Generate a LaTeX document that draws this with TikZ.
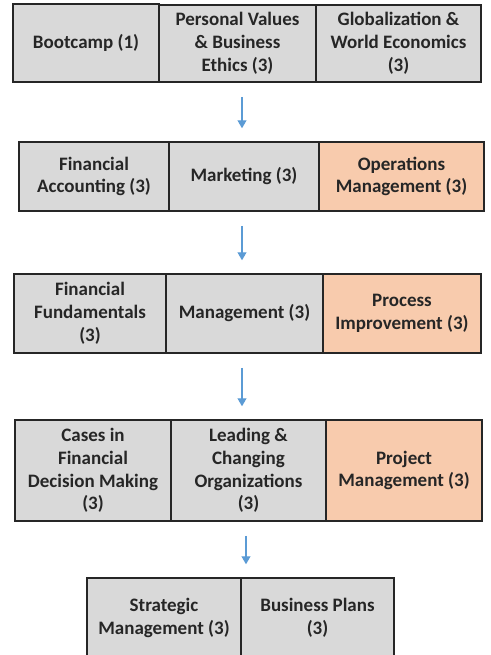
\documentclass[tikz,border=0pt]{standalone}
\usepackage{fontspec}
\setmainfont{Carlito}
\usetikzlibrary{arrows.meta}
\definecolor{boxgray}{HTML}{D9D9D9}
\definecolor{boxorange}{HTML}{F8CBAD}
\definecolor{arrowblue}{HTML}{5B9BD5}
\begin{document}
\begin{tikzpicture}[x=0.5pt,y=-0.5pt,
  box/.style={draw=black!85,line width=0.75pt,fill=boxgray,align=center,inner sep=0pt,
    font=\fontsize{9.5}{11.4}\selectfont\bfseries,text=black!85},
  core/.style={box,fill=boxorange},
  flow/.style={draw=arrowblue,line width=0.6pt,-{Triangle[width=4.5pt,length=4pt]},
    shorten <=7pt,shorten >=6.5pt}]
\useasboundingbox (0,0) rectangle (491,655);
\clip (0,0) rectangle (491,655);
% first term
\node[box,minimum width=73pt,minimum height=39pt] (boot) at (86,43) {Bootcamp (1)};
\node[box,minimum width=78.5pt,minimum height=38.5pt] (pv) at (237.5,43.5) {Personal Values\\ \& Business\\ Ethics (3)};
\node[box,minimum width=82.5pt,minimum height=38.5pt] (glob) at (398.5,43.5) {Globalization \&\\ World Economics\\ (3)};
% second term
\node[box,minimum width=75pt,minimum height=34.5pt] (facc) at (94,176.5) {Financial\\ Accounting (3)};
\node[box,minimum width=75pt,minimum height=34.5pt] (mkt) at (244,176.5) {Marketing (3)};
\node[core,minimum width=82.5pt,minimum height=34.5pt] (ops) at (401.5,176.5) {Operations\\ Management (3)};
% third term
\node[box,minimum width=76pt,minimum height=39.5pt] (ffund) at (90,313.5) {Financial\\ Fundamentals\\ (3)};
\node[box,minimum width=78.5pt,minimum height=39.5pt] (mgmt) at (244.5,313.5) {Management (3)};
\node[core,minimum width=79pt,minimum height=39.5pt] (proc) at (402,313.5) {Process\\ Improvement (3)};
% fourth term
\node[box,minimum width=78pt,minimum height=50.5pt] (cases) at (93,470.5) {Cases in\\ Financial\\ Decision Making\\ (3)};
\node[box,minimum width=77.5pt,minimum height=50.5pt] (lead) at (248.5,470.5) {Leading \&\\ Changing\\ Organizations\\ (3)};
\node[core,minimum width=78pt,minimum height=50.5pt] (proj) at (404,470.5) {Project\\ Management (3)};
% last term
\node[box,minimum width=77pt,minimum height=40pt] (strat) at (164,618) {Strategic\\ Management (3)};
\node[box,minimum width=76.5pt,minimum height=40pt] (plans) at (317.5,618) {Business Plans\\ (3)};
% arrows
\coordinate (xa) at (242,0);
\coordinate (xb) at (246,0);
\draw[flow] (pv.south -| xa) -- (mkt.north -| xa);
\draw[flow] (mkt.south -| xa) -- (mgmt.north -| xa);
\draw[flow] (mgmt.south -| xa) -- (lead.north -| xa);
\draw[flow] (lead.south -| xb) -- (plans.north -| xb);
\end{tikzpicture}
\end{document}
